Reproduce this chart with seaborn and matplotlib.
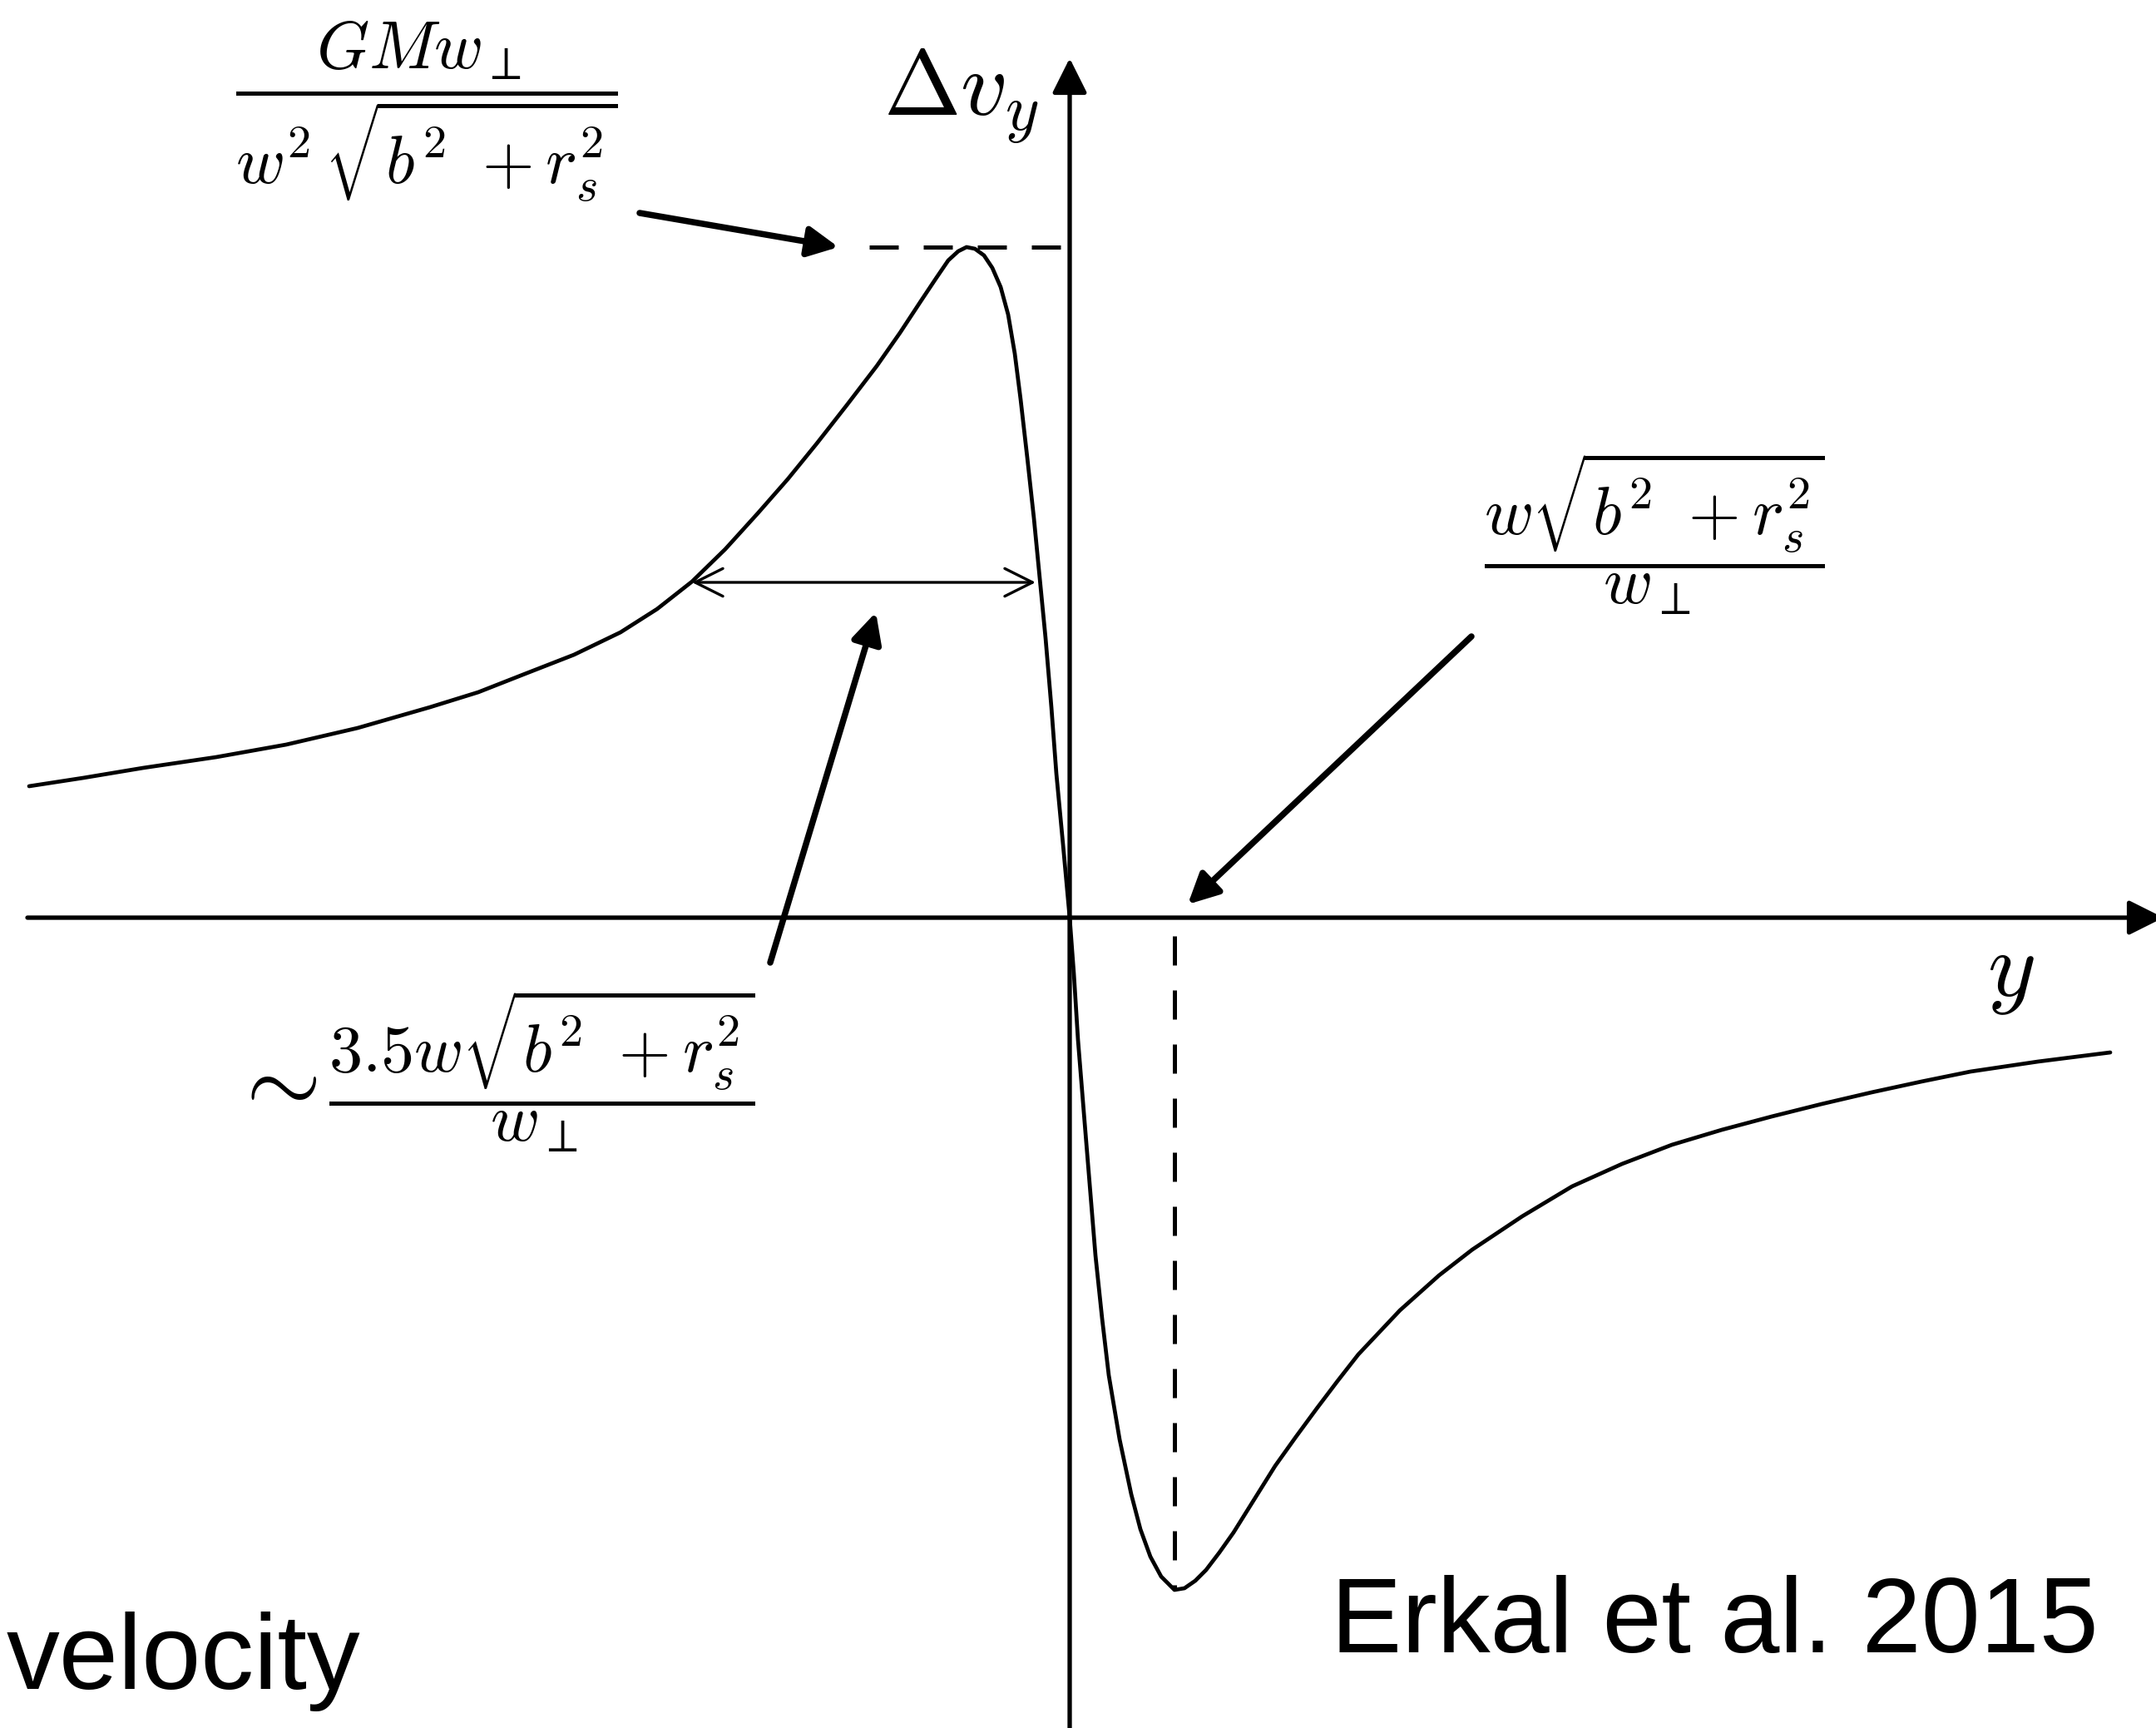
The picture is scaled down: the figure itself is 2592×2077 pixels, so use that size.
import matplotlib
matplotlib.use("Agg")
import matplotlib.pyplot as plt
import seaborn as sns
import pandas as pd

# curve (arbitrary units, origin where the axes cross)
pos_y = [-12.51, -11.86, -11.14, -10.26, -9.42, -8.56, -7.69, -7.11, -6.55, -5.96,
         -5.40, -4.96, -4.54, -4.14, -3.75, -3.39, -3.04, -2.68, -2.32, -2.04,
         -1.79, -1.61, -1.46, -1.34, -1.24, -1.14, -1.03, -0.93, -0.83, -0.74,
         -0.66, -0.59, -0.51, -0.43, -0.36, -0.29, -0.22, -0.16, -0.08, 0.00,
         0.05, 0.10, 0.17, 0.24, 0.31, 0.39, 0.47, 0.60, 0.74, 0.85,
         0.97, 1.10, 1.26, 1.38, 1.51, 1.64, 1.80, 1.97, 2.22, 2.47,
         2.72, 2.97, 3.22, 3.47, 3.97, 4.44, 4.84, 5.44, 6.04, 6.64,
         7.24, 7.84, 8.44, 9.04, 9.64, 10.24, 10.83, 11.64, 12.51]
delta_vy = [1.58, 1.68, 1.80, 1.93, 2.08, 2.28, 2.53, 2.71, 2.93, 3.16,
            3.43, 3.71, 4.04, 4.43, 4.86, 5.27, 5.70, 6.16, 6.63, 7.03,
            7.41, 7.68, 7.90, 8.01, 8.06, 8.04, 7.96, 7.81, 7.58, 7.25,
            6.78, 6.23, 5.53, 4.80, 4.08, 3.36, 2.53, 1.73, 0.88, 0.00,
            -0.67, -1.47, -2.34, -3.20, -4.06, -4.82, -5.50, -6.27, -6.93, -7.35,
            -7.68, -7.92, -8.08, -8.06, -7.97, -7.84, -7.63, -7.39, -6.99, -6.59,
            -6.24, -5.90, -5.57, -5.25, -4.72, -4.30, -3.99, -3.59, -3.23, -2.96,
            -2.73, -2.55, -2.39, -2.24, -2.10, -1.97, -1.85, -1.73, -1.62]

sns.set_style("white")
plt.rcParams["font.family"] = ["Liberation Sans", "DejaVu Sans"]
plt.rcParams["mathtext.fontset"] = "cm"
plt.rcParams["text.color"] = "black"

fig = plt.figure(figsize=(12.96, 10.385), dpi=200)
ax = fig.add_axes([0, 0, 1, 1])

df = pd.DataFrame({"y": pos_y, "dv": delta_vy})
sns.lineplot(data=df, x="y", y="dv", sort=False, color="black", lw=1.7, ax=ax)
ax.set_xlim(-12.86, 13.06)
ax.set_ylim(-9.74, 11.03)
ax.axis("off")

def arrow(start, end, style, ms, lw):
    ax.annotate("", xy=end, xytext=start, annotation_clip=False,
                arrowprops=dict(arrowstyle=style, mutation_scale=ms, lw=lw,
                                color="black", shrinkA=0, shrinkB=0))

# coordinate axes
arrow((-12.53, 0), (13.15, 0), "-|>,head_length=0.4,head_width=0.2", 32, 1.9)
arrow((0, -10.0), (0, 10.33), "-|>,head_length=0.4,head_width=0.2", 32, 1.9)

# dashed guides at the peak and the dip
peak = max(delta_vy)
dip = min(delta_vy)
x_dip = pos_y[delta_vy.index(dip)]
ax.plot([-2.41, -0.07], [peak, peak], color="black", lw=1.8, ls=(0, (7, 6)))
ax.plot([x_dip, x_dip], [-0.22, dip], color="black", lw=1.8, ls=(0, (7, 6)))

# width arrow
arrow((-4.54, 4.03), (-0.41, 4.03), "<->,head_length=0.4,head_width=0.2", 30, 1.2)

# pointer arrows
thick = "-|>,head_length=0.5,head_width=0.25"
arrow((-5.17, 8.47), (-2.78, 8.06), thick, 22, 2.7)
arrow((-3.60, -0.54), (-2.33, 3.67), thick, 22, 2.7)
arrow((4.83, 3.38), (1.42, 0.16), thick, 22, 2.7)

# labels
ax.text(-1.31, 9.87, r"$\Delta v_y$", fontsize=40, ha="center", va="center")
ax.text(11.31, -0.67, r"$y$", fontsize=40, ha="center", va="center")
ax.text(-7.73, 9.69, r"$\dfrac{GMw_\perp}{w^2\,\sqrt{b^2\ +r_s^2}}$",
        fontsize=29, ha="center", va="center")
ax.text(7.03, 4.62, r"$\dfrac{w\sqrt{b^2\ +r_s^2}}{w_\perp}$",
        fontsize=29, ha="center", va="center")
ax.text(-9.58, -2.03, r"$\sim$", fontsize=42, ha="center", va="center")
ax.text(-6.35, -1.84, r"$\dfrac{3.5w\sqrt{b^2\ +r_s^2}}{w_\perp}$",
        fontsize=29, ha="center", va="center")

ax.text(-12.78, -9.27, "velocity", fontsize=46, ha="left", va="baseline")
ax.text(12.37, -8.83, "Erkal et al. 2015", fontsize=46, ha="right", va="baseline")

fig.savefig("out.png", dpi=200)
